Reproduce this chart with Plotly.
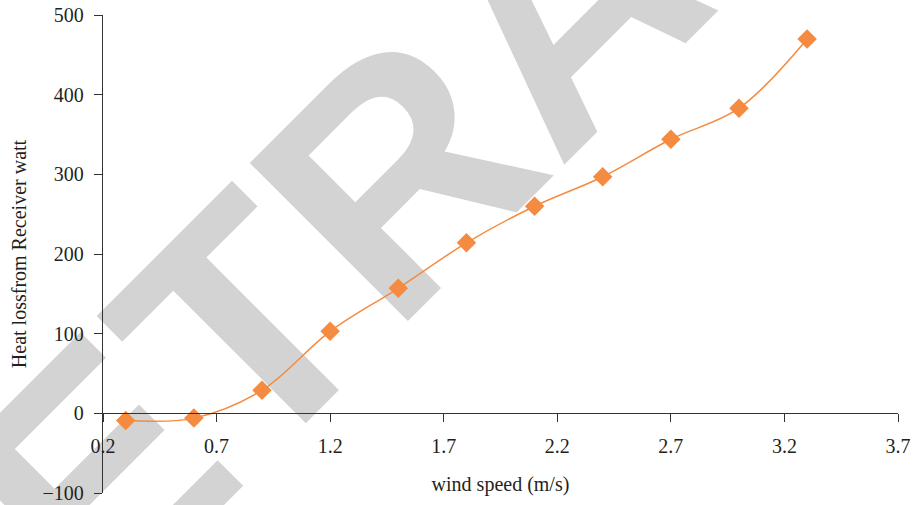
import math
import plotly.graph_objects as go

# Data
wind_speed = [0.3, 0.6, 0.9, 1.2, 1.5, 1.8, 2.1, 2.4, 2.7, 3.0, 3.3]
heat_loss = [-9, -6, 29, 103, 157, 214, 260, 297, 344, 383, 470]
x_ticks = [0.2, 0.7, 1.2, 1.7, 2.2, 2.7, 3.2, 3.7]
y_ticks = [-100, 0, 100, 200, 300, 400, 500]

W, H = 916, 505
L, R, T, B = 103, 18, 15, 12
pw, ph = W - L - R, H - T - B

def px2paper(X, Y):
    return (X - L) / pw, (H - B - Y) / ph

axis_color = "#333333"
text_color = "#231f20"
font_family = "Liberation Serif, Times New Roman, serif"
fs = 20

fig = go.Figure()
fig.add_trace(go.Scatter(
    x=wind_speed, y=heat_loss,
    mode="lines+markers",
    line=dict(color="#F48B40", width=1.5, shape="spline", smoothing=1.0),
    marker=dict(symbol="diamond", size=15, color="#F48B40"),
    showlegend=False,
))

# Watermark (retraction stamp) drawn below the data
cx, cy = 540, -14
ang = 45
d = 150
x0, y0 = px2paper(cx - d * math.cos(math.radians(ang)), cy + d * math.sin(math.radians(ang)))
x1, y1 = px2paper(cx + d * math.cos(math.radians(ang)), cy - d * math.sin(math.radians(ang)))
fig.add_shape(
    type="line", xref="paper", yref="paper",
    x0=x0, y0=y0, x1=x1, y1=y1,
    line=dict(width=0, color="rgba(0,0,0,0)"),
    layer="below",
    label=dict(text="RETRACTED", textangle=-ang, textposition="middle",
               xanchor="center", yanchor="middle",
               font=dict(family="Liberation Sans, Arial, sans-serif", size=325,
                         color="#d3d3d3", weight="bold"),
               padding=0),
)

fig.update_layout(
    width=W, height=H,
    margin=dict(l=L, r=R, t=T, b=B, autoexpand=False),
    paper_bgcolor="white",
    plot_bgcolor="rgba(0,0,0,0)",
    font=dict(family=font_family, color=text_color, size=fs),
    xaxis=dict(
        range=[0.2, 3.7], tickvals=x_ticks, ticktext=[str(v) for v in x_ticks],
        showgrid=False, zeroline=False, automargin=False,
        showline=True, linecolor=axis_color, linewidth=1.3,
        ticks="outside", ticklen=8, tickcolor=axis_color, tickwidth=1.3,
        anchor="free", position=100 / 600,
        tickfont=dict(size=fs), ticklabelstandoff=7,
        title=dict(text="wind speed (m/s)", font=dict(size=fs), standoff=20),
    ),
    yaxis=dict(
        range=[-100, 500], tickvals=y_ticks,
        showgrid=False, zeroline=False, automargin=False,
        showline=True, linecolor=axis_color, linewidth=1.3,
        ticks="outside", ticklen=8, tickcolor=axis_color, tickwidth=1.3,
        tickfont=dict(size=fs), ticklabelstandoff=6,
        title=dict(text="Heat lossfrom Receiver watt", font=dict(size=fs), standoff=10),
    ),
)

fig.write_html("out.html")
